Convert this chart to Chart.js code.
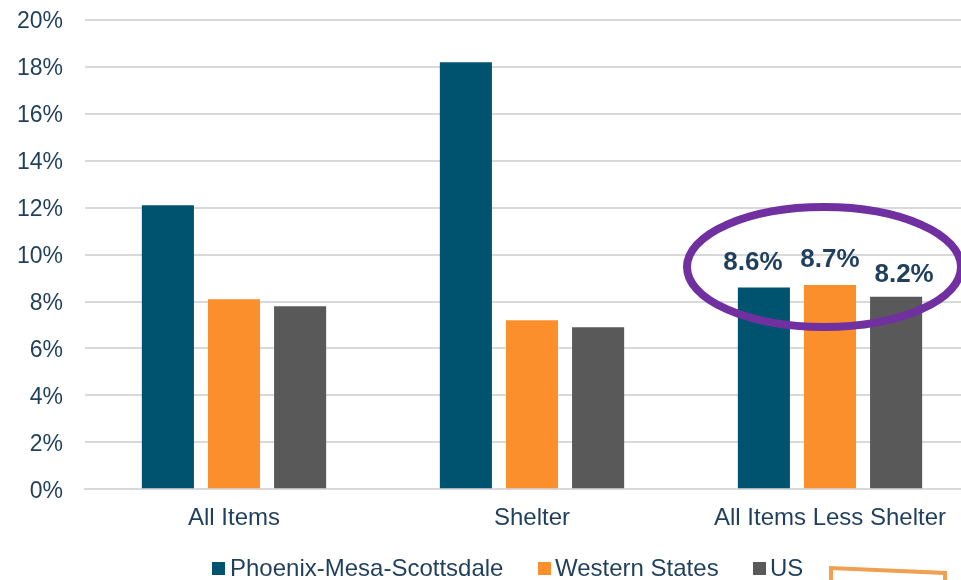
<!DOCTYPE html>
<html>
<head>
<meta charset="utf-8">
<style>
html, body { margin: 0; padding: 0; background: #fff; overflow: hidden; }
#wrap { position: relative; width: 979px; height: 580px; }
#legend { position: absolute; top: 555px; left: 212px; height: 26px; white-space: nowrap; font: 24px 'Liberation Sans'; line-height: 26px; color: #1f3f5c; }
#legend span { position: absolute; top: 0; }
#legend i { position: absolute; top: 7px; width: 13px; height: 13px; }
</style>
<script src="https://cdn.jsdelivr.net/npm/chart.js@4"></script>
</head>
<body>
<div id="wrap"><canvas id="myChart"></canvas><div id="legend"></div></div>
<script>
var categories = ["All Items", "Shelter", "All Items Less Shelter"];
var phoenix = [12.1, 18.2, 8.6];
var western = [8.1, 7.2, 8.7];
var us = [7.8, 6.9, 8.2];
var seriesNames = ["Phoenix-Mesa-Scottsdale", "Western States", "US"];
var seriesColors = ["#00536f", "#fb8f2b", "#595959"];
var legendLeft = [0, 326, 541];

var textColor = "#1f3f5c";

// labels only on the last group, nudged off the bars like in the slide
var labelShift = [[-11, -25], [0, -25], [8, -22]];

var callouts = {
    id: 'callouts',
    afterDatasetsDraw: function (chart) {
        var ctx = chart.ctx;
        ctx.save();
        ctx.font = "bold 26px 'Liberation Sans'";
        ctx.fillStyle = textColor;
        ctx.textAlign = 'center';
        ctx.textBaseline = 'middle';
        chart.data.datasets.forEach(function (ds, i) {
            var bar = chart.getDatasetMeta(i).data[2];
            ctx.fillText(ds.data[2].toFixed(1) + '%', bar.x + labelShift[i][0], bar.y + labelShift[i][1]);
        });
        ctx.strokeStyle = '#7030a0';
        ctx.lineWidth = 8;
        ctx.beginPath();
        ctx.ellipse(824, 267, 137, 60, 0, 0, Math.PI * 2);
        ctx.stroke();
        // piece of the slide's orange box showing at the bottom edge
        ctx.strokeStyle = '#f0a050';
        ctx.lineWidth = 4;
        ctx.beginPath();
        ctx.moveTo(831, 584);
        ctx.lineTo(831, 568);
        ctx.lineTo(945, 573);
        ctx.lineTo(945, 584);
        ctx.stroke();
        ctx.restore();
    }
};

new Chart(document.getElementById('myChart'), {
    type: 'bar',
    data: {
        labels: categories,
        datasets: [
            { label: seriesNames[0], data: phoenix, backgroundColor: seriesColors[0] },
            { label: seriesNames[1], data: western, backgroundColor: seriesColors[1] },
            { label: seriesNames[2], data: us, backgroundColor: seriesColors[2] }
        ]
    },
    options: {
        responsive: true,
        maintainAspectRatio: false,
        animation: false,
        devicePixelRatio: 1,
        categoryPercentage: 0.6655,
        barPercentage: 0.788,
        layout: { padding: { top: 20, right: 0, left: 0, bottom: 40 } },
        scales: {
            x: {
                grid: { display: false },
                border: { color: '#d9d9d9', width: 2 },
                ticks: { color: textColor, font: { family: 'Liberation Sans', size: 24 }, padding: 7, maxRotation: 0 }
            },
            y: {
                min: 0,
                max: 20,
                afterFit: function (scale) {
                    scale.width = 85;
                    scale.paddingTop = 0;
                    scale.paddingBottom = 0;
                },
                grid: { color: '#d9d9d9', lineWidth: 2, drawTicks: false },
                border: { display: false },
                ticks: {
                    stepSize: 2,
                    color: textColor,
                    padding: 22,
                    labelOffset: 2,
                    font: { family: 'Liberation Sans', size: 23 },
                    callback: function (v) { return v + '%'; }
                }
            }
        },
        plugins: {
            tooltip: { enabled: false },
            legend: { display: false }
        }
    },
    plugins: [callouts]
});

// legend boxes sit closer to their text than the built-in legend allows
seriesNames.forEach(function (name, i) {
    var box = document.createElement('i');
    box.style.left = legendLeft[i] + 'px';
    box.style.background = seriesColors[i];
    var label = document.createElement('span');
    label.style.left = (legendLeft[i] + (i ? 17 : 18)) + 'px';
    label.textContent = name;
    document.getElementById('legend').appendChild(box);
    document.getElementById('legend').appendChild(label);
});
</script>
</body>
</html>
